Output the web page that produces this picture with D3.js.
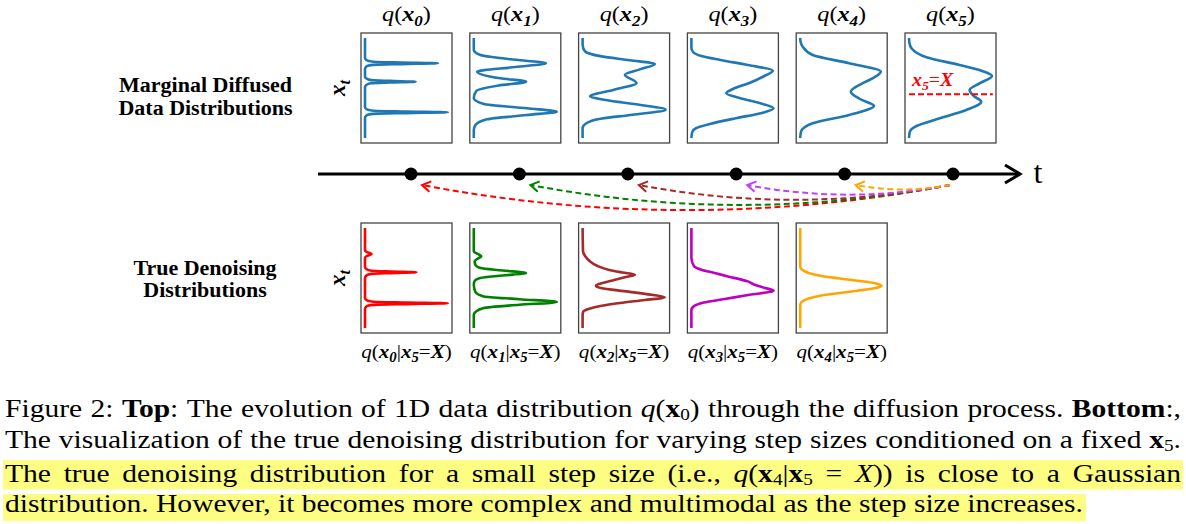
<!DOCTYPE html>
<html><head><meta charset="utf-8">
<script src="https://cdn.jsdelivr.net/npm/d3@7"></script>
<style>body{margin:0;background:#fff} svg{display:block}</style>
</head><body>
<svg id="c" width="1186" height="524"></svg>
<script>
// ---------------- DATA ----------------
const steps = [0, 1, 2, 3, 4, 5];
// Each curve: [x_t position (0 = top of panel, 1 = bottom), density (0..1)]
const marginal0 = [[0,0],[0.2,0],[0.223,0.02],[0.237,0.1],[0.245,0.44],[0.253,0.88],[0.261,0.44],[0.269,0.1],[0.283,0.02],[0.31,0],[0.39,0],[0.407,0.02],[0.421,0.07],[0.429,0.3],[0.437,0.61],[0.445,0.3],[0.453,0.07],[0.467,0.02],[0.49,0],[0.69,0],[0.713,0.02],[0.727,0.1],[0.735,0.5],[0.743,1.0],[0.751,0.5],[0.759,0.1],[0.773,0.02],[0.8,0],[1,0]];
const marginal1 = [[0,0],[0.12,0.0],[0.17,0.08],[0.213,0.44],[0.253,0.87],[0.29,0.5],[0.337,0.04],[0.403,0.32],[0.437,0.63],[0.475,0.3],[0.53,0.03],[0.6,0.0],[0.66,0.12],[0.703,0.64],[0.737,1.0],[0.77,0.64],[0.813,0.16],[0.87,0.02],[0.92,0],[1,0]];
const marginal2 = [[0,0],[0.067,0],[0.134,0.03],[0.184,0.23],[0.222,0.57],[0.26,0.87],[0.314,0.69],[0.367,0.51],[0.45,0.65],[0.517,0.38],[0.584,0.09],[0.62,0.28],[0.67,0.7],[0.717,1.0],[0.767,0.6],[0.81,0.2],[0.85,0.05],[0.9,0.0],[1,0]];
const marginal3 = [[0,0],[0.1,0],[0.14,0.02],[0.18,0.12],[0.22,0.35],[0.27,0.68],[0.327,0.98],[0.38,0.88],[0.45,0.7],[0.51,0.5],[0.553,0.42],[0.6,0.58],[0.65,0.82],[0.703,0.99],[0.75,0.85],[0.8,0.55],[0.86,0.22],[0.9,0.06],[0.94,0.01],[1,0]];
const marginal4 = [[0,0],[0.04,0.005],[0.087,0.03],[0.17,0.15],[0.253,0.59],[0.337,0.97],[0.39,0.9],[0.437,0.79],[0.537,0.61],[0.61,0.72],[0.68,0.89],[0.72,0.8],[0.77,0.59],[0.853,0.15],[0.937,0.01],[1,0]];
const marginal5 = [[0,0],[0.05,0.005],[0.103,0.03],[0.193,0.21],[0.27,0.61],[0.33,0.88],[0.38,1.0],[0.453,0.85],[0.52,0.73],[0.58,0.78],[0.637,0.87],[0.72,0.69],[0.803,0.37],[0.88,0.09],[0.937,0.01],[1,0]];
const denoise0 = [[0,0],[0.22,0],[0.24,0.02],[0.26,0.08],[0.28,0.02],[0.3,0],[0.39,0],[0.413,0.02],[0.427,0.08],[0.435,0.32],[0.443,0.62],[0.451,0.32],[0.459,0.08],[0.473,0.02],[0.5,0],[0.7,0],[0.723,0.02],[0.737,0.1],[0.745,0.5],[0.753,1.0],[0.761,0.5],[0.769,0.1],[0.783,0.02],[0.81,0],[1,0]];
const denoise1 = [[0,0],[0.234,0],[0.26,0.05],[0.284,0.09],[0.31,0.04],[0.334,0.01],[0.37,0.02],[0.4,0.08],[0.425,0.35],[0.45,0.63],[0.475,0.35],[0.5,0.08],[0.53,0.01],[0.567,0],[0.64,0.02],[0.684,0.12],[0.712,0.55],[0.74,1.0],[0.768,0.55],[0.8,0.12],[0.84,0.02],[0.867,0],[1,0]];
const denoise2 = [[0,0],[0.234,0.005],[0.28,0.03],[0.334,0.09],[0.38,0.18],[0.417,0.31],[0.445,0.48],[0.467,0.63],[0.49,0.52],[0.52,0.38],[0.55,0.24],[0.577,0.16],[0.6,0.22],[0.636,0.55],[0.67,0.85],[0.694,0.99],[0.72,0.75],[0.75,0.45],[0.777,0.23],[0.81,0.07],[0.834,0.01],[0.87,0],[1,0]];
const denoise3 = [[0,0],[0.3,0],[0.38,0.03],[0.417,0.12],[0.45,0.28],[0.484,0.44],[0.534,0.68],[0.567,0.76],[0.6,0.89],[0.627,0.99],[0.668,0.7],[0.71,0.40],[0.745,0.15],[0.777,0.04],[0.82,0.0],[1,0]];
const denoise4 = [[0,0],[0.38,0],[0.4,0.005],[0.427,0.04],[0.452,0.11],[0.477,0.24],[0.502,0.45],[0.527,0.69],[0.552,0.9],[0.577,0.98],[0.602,0.9],[0.627,0.69],[0.652,0.45],[0.677,0.24],[0.702,0.11],[0.727,0.04],[0.754,0.005],[0.78,0],[1,0]];

const marginalCurves = [marginal0, marginal1, marginal2, marginal3, marginal4, marginal5];
const denoiseCurves = [denoise0, denoise1, denoise2, denoise3, denoise4];
const marginalColor = "#1f77b4";
const denoiseColors = ["#ff0000", "#008000", "#a52a2a", "#bf00bf", "#ffa500"];
const arrowColors = ["#ff0000", "#008000", "#a52a2a", "#c040ff", "#ffa500"];
const conditionT = 0.563;   // x5 = X level in the q(x5) panel
const topRowLabel = ["Marginal Diffused", "Data Distributions"];
const bottomRowLabel = ["True Denoising", "Distributions"];
const axisLabel = "t";

const captionLine1 = [["Figure 2: "],["Top","b"],[": The evolution of 1D data distribution "],["q","i"],["("],["x","b"],["0","s"],[") through the diffusion process. "],["Bottom","b"],[":,"]];
const captionLine2 = [["The visualization of the true denoising distribution for varying step sizes conditioned on a fixed "],["x","b"],["5","s"],["."]];
const captionLine3 = [["The true denoising distribution for a small step size (i.e., "],["q","i"],["("],["x","b"],["4","s"],["|"],["x","b"],["5","s"],[" = "],["X","i"],[")) is close to a Gaussian"]];
const captionLine4 = [["distribution. However, it becomes more complex and multimodal as the step size increases."]];

// ---------------- DRAWING ----------------
const FONT = "'Liberation Serif','Times New Roman',serif";
const SX = 1.1;
const svg = d3.select("#c");

function rich(sel, segs, fs, subScale = 0.7, subShift = 0.22) {
  let shifted = 0;
  segs.forEach(s => {
    const f = s[1] || "";
    const sub = f.includes("s");
    const ts = sel.append("tspan").text(s[0])
      .attr("font-style", f.includes("i") ? "italic" : "normal")
      .attr("font-weight", f.includes("b") ? "bold" : "normal")
      .attr("font-size", sub ? fs * subScale : fs);
    const want = sub ? fs * subShift : 0;
    if (want !== shifted) { ts.attr("dy", want - shifted); shifted = want; }
  });
}
function addText(parent, x, y, segs, fs, opts = {}) {
  const g = parent.append("g").attr("transform",
    `translate(${x},${y})` + (opts.rotate ? ` rotate(${opts.rotate})` : "") + ` scale(${opts.sx ?? SX},1)`);
  const t = g.append("text").attr("font-family", FONT).attr("font-size", fs)
    .attr("text-anchor", opts.anchor || "middle").attr("fill", opts.fill || "#000")
    .style("white-space", "pre");
  rich(t, segs, fs);
  return t;
}

const panelX = d3.scaleLinear().domain([0, 5]).range([361, 905]);
const PW = 91, PH = 110, TOP_Y = 33, BOT_Y = 223;
const lineGen = (xs, ys) => d3.line().x(p => xs(p[1])).y(p => ys(p[0])).curve(d3.curveMonotoneY);

function panel(i, top, curve, color) {
  const left = panelX(i);
  const xs = d3.scaleLinear().domain([0, 1]).range([left + 4, left + 87]);
  const ys = d3.scaleLinear().domain([0, 1]).range([top + 5, top + 105]);
  svg.append("rect").attr("x", left).attr("y", top).attr("width", PW).attr("height", PH)
    .attr("fill", "none").attr("stroke", "#444").attr("stroke-width", 1.3);
  svg.append("path").attr("d", lineGen(xs, ys)(curve)).attr("fill", "none")
    .attr("stroke", color).attr("stroke-width", 2.6).attr("stroke-linejoin", "round");
  return { left, xs, ys };
}

// top row
steps.forEach(i => {
  const p = panel(i, TOP_Y, marginalCurves[i], marginalColor);
  addText(svg, p.left + PW / 2, 21, [["q","i"],["("],["x","bi"],[String(i),"bis"],[")"]], 22);
  if (i === 5) {
    const yl = p.ys(conditionT);
    svg.append("line").attr("x1", p.xs(0)).attr("x2", p.xs(1.01)).attr("y1", yl).attr("y2", yl)
      .attr("stroke", "#ff0000").attr("stroke-width", 2).attr("stroke-dasharray", "6,3");
    addText(svg, p.xs(0) + 3, yl - 8, [["x","bi"],["5","bis"],["="],["X","bi"]], 18, { anchor: "start", fill: "#ff0000" });
  }
});
// bottom row
steps.slice(0, 5).forEach(i => {
  const p = panel(i, BOT_Y, denoiseCurves[i], denoiseColors[i]);
  addText(svg, p.left + PW / 2, 358, [["q","i"],["("],["x","bi"],[String(i),"bis"],["|"],["x","bi"],["5","bis"],["="],["X","bi"],[")"]], 19.5, { sx: 1.08 });
});

// row labels
addText(svg, 205.5, 91.5, [[topRowLabel[0], "b"]], 20);
addText(svg, 205.5, 114.5, [[topRowLabel[1], "b"]], 20);
addText(svg, 205, 275, [[bottomRowLabel[0], "b"]], 20);
addText(svg, 205, 297, [[bottomRowLabel[1], "b"]], 20);
addText(svg, 345, 88, [["x","bi"],["t","bis"]], 23, { rotate: -90, sx: 1 });
addText(svg, 345, 278, [["x","bi"],["t","bis"]], 23, { rotate: -90, sx: 1 });

// timeline
const tx = d3.scaleLinear().domain([0, 5]).range([411, 953]);
const AY = 174, AX0 = 318, AX1 = 1020;
svg.append("line").attr("x1", AX0).attr("x2", AX1 - 1).attr("y1", AY).attr("y2", AY)
  .attr("stroke", "#000").attr("stroke-width", 3);
svg.append("path").attr("d", `M${AX1 - 15},${AY - 9} L${AX1},${AY} L${AX1 - 15},${AY + 9}`)
  .attr("fill", "none").attr("stroke", "#000").attr("stroke-width", 3).attr("stroke-linejoin", "miter");
addText(svg, 1038, 183, [[axisLabel]], 32, { sx: 1 });
svg.selectAll("circle.step").data(steps).enter().append("circle")
  .attr("cx", d => tx(d)).attr("cy", AY).attr("r", 6.5).attr("fill", "#000");

// denoising arrows (from step 5 back to each earlier step)
const rad = 0.095;
steps.slice(0, 5).forEach(i => {
  const sx = tx(5) - 3, sy = 185, ex = tx(i) + 11, ey = 185;
  const cx = (sx + ex) / 2, cy = (sy + ey) / 2 + rad * (sx - ex);
  svg.append("path").attr("d", `M${sx},${sy} Q${cx},${cy} ${ex},${ey}`).attr("fill", "none")
    .attr("stroke", arrowColors[i]).attr("stroke-width", 2).attr("stroke-dasharray", "6,3.5");
  let vx = ex - cx, vy = ey - cy; const L = Math.hypot(vx, vy); vx /= L; vy /= L;
  const a = 32 * Math.PI / 180, hl = 10;
  const arm = s => [ex - hl * (vx * Math.cos(a) - s * vy * Math.sin(a)), ey - hl * (vy * Math.cos(a) + s * vx * Math.sin(a))];
  const p1 = arm(1), p2 = arm(-1);
  svg.append("path").attr("d", `M${p1[0]},${p1[1]} L${ex},${ey} L${p2[0]},${p2[1]}`)
    .attr("fill", "none").attr("stroke", arrowColors[i]).attr("stroke-width", 2);
});

// caption
const CFS = 26, CX0 = 5, CX1 = 1181;
const ctx = document.createElement("canvas").getContext("2d");
ctx.font = `${CFS}px 'Liberation Serif'`;
const spaceW = ctx.measureText(" ").width;
const hl = svg.append("g");
const capG = svg.append("g");
function toWords(segs) {
  const words = []; let cur = [];
  segs.forEach(s => {
    s[0].split(" ").forEach((part, j) => {
      if (j > 0) { if (cur.length) words.push(cur); cur = []; }
      if (part) cur.push([part, s[1]]);
    });
  });
  if (cur.length) words.push(cur);
  return words;
}
function capWord(parent, w) {
  const t = parent.append("text").attr("font-family", FONT).attr("font-size", CFS).style("white-space", "pre");
  rich(t, w, CFS, 0.65, 0.12);
  return t;
}
function layLine(segs, baseline, justify, sxC) {
  const g = capG.append("g").attr("transform", `translate(${CX0},${baseline}) scale(${sxC},1)`);
  const words = toWords(segs);
  const nodes = words.map(w => capWord(g, w));
  const widths = nodes.map(n => n.node().getComputedTextLength());
  const sum = d3.sum(widths);
  const target = (CX1 - CX0) / sxC;
  const gap = justify ? (target - sum) / (words.length - 1) : spaceW;
  let x = 0;
  nodes.forEach((n, k) => { n.attr("x", x); x += widths[k] + gap; });
  return (x - gap) * sxC;
}
// calibrate horizontal stretch on the unjustified last line
const probe = capG.append("g");
const pw = toWords(captionLine4).map(w => capWord(probe, w).node().getComputedTextLength());
const nat4 = d3.sum(pw) + (pw.length - 1) * spaceW;
probe.remove();
const sxC = 1078 / nat4;

layLine(captionLine1, 417, true, sxC);
layLine(captionLine2, 447.5, true, sxC);
layLine(captionLine3, 482, true, sxC);
const w4 = layLine(captionLine4, 512, false, sxC);
hl.append("rect").attr("x", 3).attr("y", 460).attr("width", 1180).attr("height", 29.5).attr("fill", "#fdfd82");
hl.append("rect").attr("x", 3).attr("y", 494).attr("width", w4 + 5).attr("height", 27).attr("fill", "#fdfd82");
</script>
</body></html>
